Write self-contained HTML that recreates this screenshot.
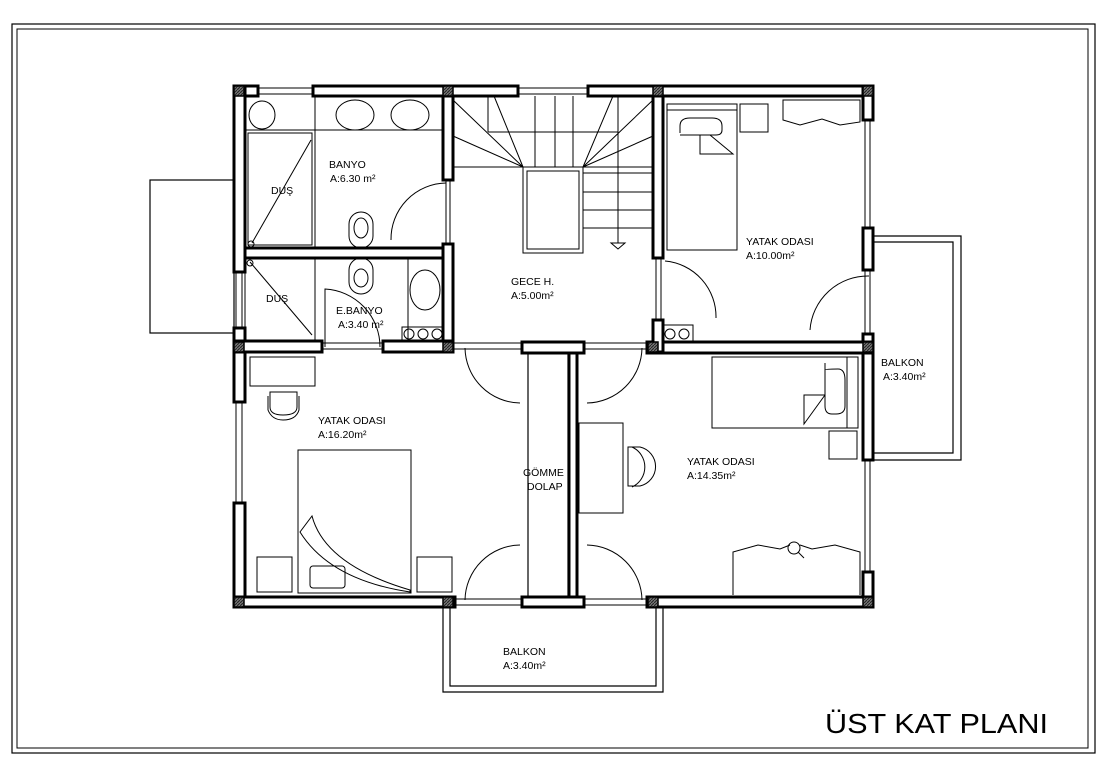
<!DOCTYPE html>
<html><head><meta charset="utf-8"><style>
html,body{margin:0;padding:0;background:#fff;}
svg{display:block;}
text{font-family:"Liberation Sans",sans-serif;fill:#000;}
</style></head><body>
<svg width="1112" height="773" viewBox="0 0 1112 773" xmlns="http://www.w3.org/2000/svg">
<defs>
<pattern id="h" width="3" height="3" patternUnits="userSpaceOnUse"><rect width="3" height="3" fill="#777"/><path d="M0,3 L3,0" stroke="#222" stroke-width="1"/></pattern>
</defs>
<rect x="12" y="24" width="1083" height="729" fill="none" stroke="#000" stroke-width="1.2"/>
<rect x="17" y="29" width="1071" height="719" fill="none" stroke="#000" stroke-width="1"/>

<!-- external outlines -->
<g fill="none" stroke="#000" stroke-width="1.2">
<rect x="150" y="180" width="84" height="153"/>
<path d="M443,607 V692 H663 V607 M450,607 V686 H656 V607"/>
<path d="M873,236 H961 V460 H873 M873,242 H953 V453 H873"/>
</g>

<!-- windows / thin openings -->
<g fill="none" stroke="#000" stroke-width="1">
<path d="M258,88 H313 M258,94 H313 M518,88 H588 M518,94 H588"/>
<path d="M865,120 V228 M870,120 V228 M865,460 V572 M870,460 V572 M865,270 V334 M870,270 V334"/>
<path d="M236,272 V328 M242,272 V328 M236,402 V503 M242,402 V503"/>
<path d="M455,599 H522 M455,605 H522 M584,599 H647 M584,605 H647"/>
<path d="M453,343 H522 M453,349 H522 M584,343 H647 M584,349 H647 M322,343 H383 M322,349 H383"/>
<path d="M656,258 V320 M661,258 V320 M446,180 V244 M450,180 V244"/>
</g>

<!-- walls -->
<g fill="#fff" stroke="#000" stroke-width="3">
<rect x="234" y="86" width="24" height="10"/>
<rect x="313" y="86" width="205" height="10"/>
<rect x="588" y="86" width="285" height="10"/>
<rect x="234" y="86" width="11" height="186"/>
<rect x="234" y="328" width="11" height="74"/>
<rect x="234" y="503" width="11" height="104"/>
<rect x="863" y="86" width="10" height="34"/>
<rect x="863" y="228" width="10" height="42"/>
<rect x="863" y="334" width="10" height="126"/>
<rect x="863" y="572" width="10" height="35"/>
<rect x="234" y="597" width="221" height="10"/>
<rect x="522" y="597" width="62" height="10"/>
<rect x="647" y="597" width="226" height="10"/>
<rect x="443" y="96" width="10" height="84"/>
<rect x="443" y="244" width="10" height="108"/>
<rect x="245" y="248" width="198" height="10"/>
<rect x="234" y="341" width="88" height="11"/>
<rect x="383" y="341" width="70" height="11"/>
<rect x="522" y="342" width="62" height="11"/>
<rect x="647" y="342" width="226" height="11"/>
<rect x="653" y="96" width="10" height="162"/>
<rect x="653" y="320" width="10" height="32"/>
<rect x="569" y="353" width="8" height="244"/>
</g>
<g fill="none" stroke="#000" stroke-width="1.2">
<rect x="528" y="353" width="40" height="244"/>
</g>
<!-- corner pillars -->
<g fill="url(#h)" stroke="#000" stroke-width="1.5">
<rect x="234" y="86" width="10" height="10"/>
<rect x="443" y="86" width="10" height="10"/>
<rect x="653" y="86" width="10" height="10"/>
<rect x="863" y="86" width="10" height="10"/>
<rect x="234" y="342" width="10" height="10"/>
<rect x="443" y="342" width="10" height="10"/>
<rect x="648" y="342" width="10" height="10"/>
<rect x="863" y="342" width="10" height="10"/>
<rect x="234" y="597" width="10" height="10"/>
<rect x="443" y="597" width="10" height="10"/>
<rect x="648" y="597" width="10" height="10"/>
<rect x="863" y="597" width="10" height="10"/>
</g>

<!-- fixtures -->
<g fill="none" stroke="#000" stroke-width="1">
<!-- banyo -->
<path d="M245,130 H443 M315,96 V248"/>
<rect x="248" y="133" width="64" height="112"/>
<path d="M252,243 L311,140"/>
<circle cx="251" cy="244" r="3"/>
<ellipse cx="262" cy="115" rx="13" ry="14"/>
<ellipse cx="355" cy="115" rx="19" ry="15"/>
<ellipse cx="410" cy="115" rx="19" ry="15"/>
<rect x="349" y="212" width="24" height="36" rx="12"/>
<ellipse cx="361" cy="228" rx="7" ry="10"/>
<path d="M391,240 A56,56 0 0 1 446,183"/>
<!-- e.banyo -->
<path d="M245,258 V341 M315,258 V341"/>
<path d="M250,262 L312,335"/>
<circle cx="250" cy="263" r="3"/>
<rect x="349" y="258" width="24" height="36" rx="12"/>
<ellipse cx="361" cy="278" rx="7" ry="9"/>
<path d="M408,258 V341"/>
<ellipse cx="425" cy="290" rx="15" ry="20"/>
<rect x="402" y="327" width="42" height="14"/>
<circle cx="409" cy="334" r="5"/><circle cx="423" cy="334" r="5"/><circle cx="437" cy="334" r="5"/>
<path d="M325,347 V289 A58,58 0 0 1 380,347"/>
<!-- stairs -->
<rect x="523" y="167" width="60" height="86"/>
<rect x="527" y="171" width="52" height="78"/>
<path d="M453,167 H523 M583,167 H653 M488,132 H618 M488,96 V132 M535,96 V167 M555,96 V167 M573,96 V167 M618,96 V132"/>
<path d="M523,167 L453,136 M523,167 L453,100 M523,167 L494,96 M583,167 L653,136 M583,167 L653,100 M583,167 L613,96"/>
<path d="M583,173 H653 M583,192 H653 M583,210 H653 M583,228 H653"/>
<path d="M618,132 V243 M611,243 H625 L618,249 Z"/>
<!-- bedroom 10 -->
<rect x="667" y="104" width="70" height="146"/>
<path d="M667,110 H737"/>
<path d="M680,133 V126 Q680,118 690,118 H712 Q722,118 722,126 V130 Q722,135 716,135 H680"/>
<path d="M700,135 V154 H733 L710,135"/>
<rect x="740" y="104" width="28" height="28"/>
<path d="M783,100 H860 V122 L840,125 L822,119 L800,125 L783,120 Z"/>
<path d="M665,261 A56,56 0 0 1 716,318 M810,330 A58,58 0 0 1 869,276"/>
<rect x="663" y="325" width="30" height="17"/>
<circle cx="670" cy="334" r="5"/><circle cx="684" cy="334" r="5"/>
<!-- bedroom 14.35 -->
<rect x="712" y="357" width="146" height="71"/>
<path d="M847,357 V428"/>
<path d="M825,370 Q825,369 838,369 Q845,369 845,380 V406 Q845,414 836,414 H832 Q825,414 825,406 Z"/>
<path d="M825,363 V395 H804 V424 L825,395"/>
<rect x="829" y="431" width="28" height="28"/>
<rect x="579" y="423" width="44" height="90"/>
<path d="M628,447 H640 A20,20 0 0 1 640,486 H628 Z M632,447 A22,22 0 0 1 632,487"/>
<path d="M733,595 V552 L758,545 L780,549 L790,545 M800,545 L812,549 L835,545 L860,552 V595"/>
<circle cx="794" cy="548" r="6"/>
<path d="M798,552 L804,558"/>
<path d="M587,403 A56,56 0 0 0 642,348 M587,545 A56,56 0 0 1 642,600"/>
<path d="M520,403 A56,56 0 0 1 465,348 M520,545 A56,56 0 0 0 465,600"/>
<!-- bedroom 16.20 -->
<rect x="250" y="357" width="65" height="29"/>
<path d="M270,392 V407 Q270,415 283,415 Q297,415 297,407 V392 Z M268,396 V410 Q272,420 283,420 Q296,420 299,410 V396"/>
<rect x="298" y="450" width="113" height="143"/>
<rect x="310" y="566" width="35" height="22" rx="3"/>
<path d="M312,516 Q325,565 410,590 L410,592 Q330,580 300,532 Z"/>
<rect x="257" y="557" width="35" height="35"/>
<rect x="417" y="557" width="35" height="35"/>
</g>

<!-- labels -->
<g font-size="10.5">
<text x="329" y="168">BANYO</text>
<text x="330" y="182">A:6.30 m²</text>
<text x="271" y="194">DUŞ</text>
<text x="266" y="302">DUŞ</text>
<text x="336" y="314">E.BANYO</text>
<text x="338" y="328">A:3.40 m²</text>
<text x="511" y="285">GECE H.</text>
<text x="511" y="299">A:5.00m²</text>
<text x="746" y="245">YATAK ODASI</text>
<text x="746" y="259">A:10.00m²</text>
<text x="881" y="366">BALKON</text>
<text x="883" y="380">A:3.40m²</text>
<text x="318" y="424">YATAK ODASI</text>
<text x="318" y="438">A:16.20m²</text>
<text x="523" y="476">GÖMME</text>
<text x="527" y="490">DOLAP</text>
<text x="687" y="465">YATAK ODASI</text>
<text x="687" y="479">A:14.35m²</text>
<text x="503" y="655">BALKON</text>
<text x="503" y="669">A:3.40m²</text>
</g>
<text x="825" y="733" font-size="28" textLength="223" lengthAdjust="spacingAndGlyphs">ÜST KAT PLANI</text>
</svg>
</body></html>
